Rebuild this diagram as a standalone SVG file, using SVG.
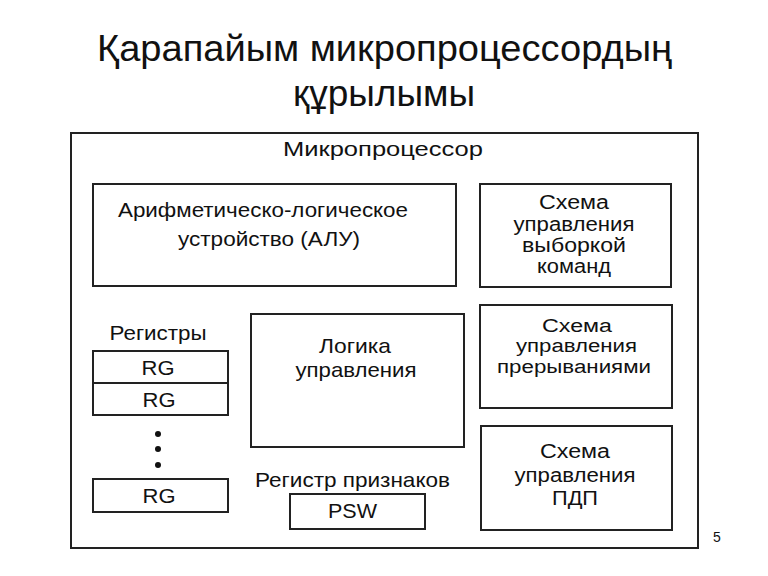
<svg xmlns="http://www.w3.org/2000/svg" width="768" height="576" viewBox="0 0 768 576">
<style>
text{font-family:"Liberation Sans",Arial,sans-serif;fill:#111;text-anchor:middle}
.title{font-size:37px}
.lbl{font-size:21px}
.sm{font-size:19.5px}
.xs{font-size:18px}
.box{fill:none;stroke:#222;stroke-width:2}
.num{font-size:14px}
</style>
<rect width="768" height="576" fill="#fff"/>
<g id="title">
<text class="title" x="384.5" y="61" textLength="575" lengthAdjust="spacingAndGlyphs">Қарапайым микропроцессордың</text>
<text class="title" x="384" y="106">құрылымы</text>
</g>
<g id="cpu">
<rect class="box" x="71" y="133" width="627" height="415"/>
<text class="lbl" x="383" y="156" textLength="200" lengthAdjust="spacingAndGlyphs">Микропроцессор</text>
</g>
<g id="alu">
<rect class="box" x="93" y="184" width="363" height="102"/>
<text class="lbl" x="263" y="217" textLength="290" lengthAdjust="spacingAndGlyphs">Арифметическо-логическое</text>
<text class="lbl" x="269" y="246" textLength="182" lengthAdjust="spacingAndGlyphs">устройство (АЛУ)</text>
</g>
<g id="fetch">
<rect class="box" x="480" y="184" width="191" height="103"/>
<text class="sm" x="574" y="209" textLength="70" lengthAdjust="spacingAndGlyphs">Схема</text>
<text class="sm" x="574" y="231" textLength="121" lengthAdjust="spacingAndGlyphs">управления</text>
<text class="sm" x="574" y="252" textLength="104" lengthAdjust="spacingAndGlyphs">выборкой</text>
<text class="sm" x="574" y="273" textLength="74" lengthAdjust="spacingAndGlyphs">команд</text>
</g>
<g id="interrupt">
<rect class="box" x="480" y="305" width="192" height="103"/>
<text class="xs" x="577" y="332" textLength="70" lengthAdjust="spacingAndGlyphs">Схема</text>
<text class="xs" x="576.5" y="352" textLength="121" lengthAdjust="spacingAndGlyphs">управления</text>
<text class="xs" x="574" y="373" textLength="154" lengthAdjust="spacingAndGlyphs">прерываниями</text>
</g>
<g id="dma">
<rect class="box" x="481" y="426" width="191" height="104"/>
<text class="sm" x="575" y="458" textLength="70" lengthAdjust="spacingAndGlyphs">Схема</text>
<text class="sm" x="575" y="482" textLength="121" lengthAdjust="spacingAndGlyphs">управления</text>
<text class="sm" x="575" y="505" textLength="46" lengthAdjust="spacingAndGlyphs">ПДП</text>
</g>
<g id="registers">
<text class="lbl" x="158" y="340" textLength="97" lengthAdjust="spacingAndGlyphs">Регистры</text>
<rect class="box" x="93" y="351" width="135" height="32"/>
<text class="lbl" x="158" y="375" textLength="33" lengthAdjust="spacingAndGlyphs">RG</text>
<rect class="box" x="93" y="383" width="135" height="32"/>
<text class="lbl" x="159" y="407" textLength="33" lengthAdjust="spacingAndGlyphs">RG</text>
<circle cx="158" cy="434" r="3" fill="#111"/>
<circle cx="158" cy="449" r="3" fill="#111"/>
<circle cx="158" cy="465" r="3" fill="#111"/>
<rect class="box" x="93" y="479" width="135" height="33"/>
<text class="lbl" x="159" y="503" textLength="33" lengthAdjust="spacingAndGlyphs">RG</text>
</g>
<g id="control">
<rect class="box" x="251" y="314" width="213" height="133"/>
<text class="lbl" x="355" y="353" textLength="72" lengthAdjust="spacingAndGlyphs">Логика</text>
<text class="lbl" x="356" y="377" textLength="121" lengthAdjust="spacingAndGlyphs">управления</text>
</g>
<g id="flags">
<text class="lbl" x="352.5" y="487" textLength="195" lengthAdjust="spacingAndGlyphs">Регистр признаков</text>
<rect class="box" x="290" y="494" width="135" height="35"/>
<text class="lbl" x="352.5" y="518" textLength="49" lengthAdjust="spacingAndGlyphs">PSW</text>
</g>
<g id="connectors"/>
<text class="num" x="717" y="542">5</text>
</svg>
